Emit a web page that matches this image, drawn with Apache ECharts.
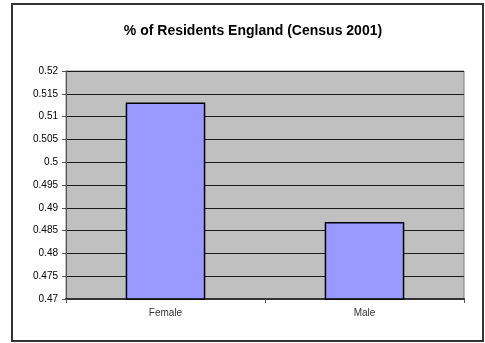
<!DOCTYPE html>
<html>
<head>
<meta charset="utf-8">
<script src="https://cdn.jsdelivr.net/npm/echarts@6/dist/echarts.min.js"></script>
<style>
  html, body { margin: 0; padding: 0; background: #ffffff; }
  #chart { width: 485px; height: 343px; }
</style>
</head>
<body>
<div id="chart"></div>
<script>
// Share of residents by sex, England, Census 2001
const categories = ['Female', 'Male'];
const shares = [0.5131, 0.4869];
const yTicks = { min: 0.47, max: 0.52, step: 0.005 };

const chart = echarts.init(document.getElementById('chart'), null, { renderer: 'canvas' });

const font = 'Arial, "Liberation Sans", sans-serif';

chart.setOption({
  animation: false,
  backgroundColor: '#ffffff',
  title: {
    text: '% of Residents England (Census 2001)',
    left: 248,
    top: 19,
    textAlign: 'center',
    textStyle: { fontFamily: font, fontSize: 14, fontWeight: 'bold', color: '#000000' }
  },
  graphic: [{
    type: 'rect',
    shape: { x: 12, y: 4, width: 471, height: 337 },
    style: { fill: 'none', stroke: '#333333', lineWidth: 2 },
    silent: true
  }],
  grid: {
    left: 66, right: 21, top: 71, bottom: 44,
    show: true,
    backgroundColor: '#c0c0c0',
    borderColor: '#808080',
    borderWidth: 1
  },
  xAxis: {
    type: 'category',
    data: categories,
    axisLine: { show: true, lineStyle: { color: '#333333', width: 2 } },
    axisTick: { show: true, alignWithLabel: false, length: 4, lineStyle: { color: '#555555' } },
    axisLabel: { fontFamily: font, fontSize: 10, color: '#333333', margin: 9 },
    splitLine: { show: false }
  },
  yAxis: {
    type: 'value',
    min: yTicks.min,
    max: yTicks.max,
    interval: yTicks.step,
    axisLine: { show: true, lineStyle: { color: '#555555', width: 1 } },
    axisTick: { show: true, length: 4, lineStyle: { color: '#555555' } },
    axisLabel: {
      fontFamily: font, fontSize: 10, color: '#000000', margin: 8,
      formatter: v => String(parseFloat(v.toFixed(3)))
    },
    splitLine: { show: true, lineStyle: { color: '#1a1a1a', width: 1 } }
  },
  series: [{
    type: 'bar',
    data: shares,
    barWidth: '40%',
    itemStyle: { color: '#9999ff', borderColor: '#000000', borderWidth: 1.5 }
  }]
});
</script>
</body>
</html>
